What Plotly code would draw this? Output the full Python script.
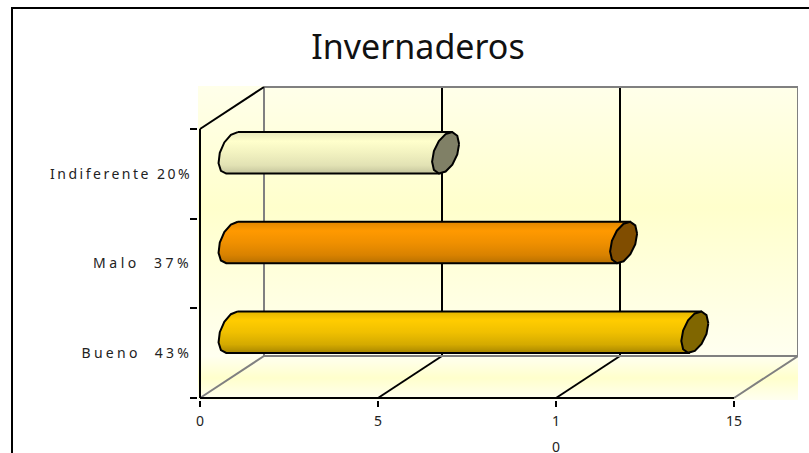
import math
import plotly.graph_objects as go

categories = ["Bueno", "Malo", "Indiferente"]
percent_labels = ["Bueno  43%", "Malo  37%", "Indiferente 20%"]
values = [13, 11, 6]
label_spacing = [3.3, 3.5, 2.5]
x_ticks = [0, 5, 10, 15]
x_tick_labels = ["0", "5", "1<br><span style='baseline-shift:-8px'>0</span>", "15"]
body_scales = [
    [[0, "#A88600"], [0.2, "#D4AA00"], [0.5, "#F0C000"], [0.78, "#FFCC00"], [1, "#E3B500"]],
    [[0, "#B87000"], [0.2, "#D98200"], [0.5, "#F09000"], [0.78, "#FF9900"], [1, "#E08600"]],
    [[0, "#C4C49C"], [0.2, "#E2E2B4"], [0.5, "#F2F2C0"], [0.78, "#FFFFCC"], [1, "#E8E8BC"]],
]
cap_colors = ["#806600", "#804D00", "#808066"]

W, H = 809, 453
PX_X, PX_Y = 35.6, 89.67
X0, Y0 = 200, 398
LEFT, RIGHT, TOP, BOTTOM = 198, 798, 86, 400
DX, DY = 64 / PX_X, 42 / PX_Y
RX, RY = 0.211, 0.209
N_CAT = len(categories)
WALL = "#808080"


def ellipse(cx, cy, ts):
    xs = [cx + RX * DX * math.cos(t) for t in ts]
    ys = [cy + RX * DY * math.cos(t) + RY * math.sin(t) for t in ts]
    return xs, ys


fig = go.Figure()


def line(xs, ys, color="black", width=2):
    fig.add_trace(go.Scatter(x=xs, y=ys, mode="lines", line=dict(color=color, width=width),
                             hoverinfo="skip", showlegend=False, cliponaxis=False))


xmin, xmax = (LEFT - X0) / PX_X, (RIGHT - X0) / PX_X
ymin, ymax = (Y0 - BOTTOM) / PX_Y, (Y0 - TOP) / PX_Y
floor_top = DY

# walls and floor
fig.add_trace(go.Scatter(x=[xmin, xmax, xmax, xmin, xmin], y=[floor_top, floor_top, ymax, ymax, floor_top],
                         mode="none", fill="toself", hoverinfo="skip", showlegend=False,
                         fillgradient=dict(type="vertical", colorscale=[[0, "#FFFFF0"], [0.55, "#FFFFCC"], [1, "#FFFFEA"]])))
fig.add_trace(go.Scatter(x=[xmin, xmax, xmax, xmin, xmin], y=[ymin, ymin, floor_top, floor_top, ymin],
                         mode="none", fill="toself", hoverinfo="skip", showlegend=False,
                         fillgradient=dict(type="vertical", colorscale=[[0, "#FFFFF0"], [0.5, "#FFFFCC"], [1, "#FFFFF0"]])))

# back grid and floor lines
for v in x_ticks:
    c = WALL if v in (0, 15) else "black"
    line([v, v + DX], [0, DY], c)
    line([v + DX, v + DX], [DY, N_CAT + DY], c)
line([DX, 15 + DX], [DY, DY], WALL)
line([DX, 15 + DX], [N_CAT + DY, N_CAT + DY], WALL)
line([0, DX], [N_CAT, N_CAT + DY], "black")

# cylinders
facets = 12
for i, v in enumerate(values):
    cy = i + 0.5 + DY / 2
    cx0, cx1 = DX / 2, v + DX / 2
    t_top = math.atan2(RY, RX * DY)
    t_bot = t_top + math.pi
    left_ts = [t_top + (t_bot - t_top) * k / (facets // 2) for k in range(facets // 2 + 1)]
    lx, ly = ellipse(cx0, cy, left_ts)
    rx, ry = ellipse(cx1, cy, [t_bot, t_top])
    fig.add_trace(go.Scatter(x=lx + rx + lx[:1], y=ly + ry + ly[:1], mode="lines", fill="toself",
                             line=dict(color="black", width=2), hoverinfo="skip", showlegend=False,
                             fillgradient=dict(type="vertical", colorscale=body_scales[i])))
    cap_ts = [2 * math.pi * k / facets for k in range(facets + 1)]
    ex, ey = ellipse(cx1, cy, cap_ts)
    fig.add_trace(go.Scatter(x=ex, y=ey, mode="lines", fill="toself", fillcolor=cap_colors[i],
                             line=dict(color="black", width=2), hoverinfo="skip", showlegend=False))

# axis lines
line([0, 15], [0, 0], "black", 2)
line([0, 0], [0, N_CAT], "black", 2)

y_text = [f"<span style='letter-spacing:{s}px'>{t}</span>" for t, s in zip(percent_labels, label_spacing)]

fig.update_layout(
    width=W, height=H, margin=dict(l=0, r=0, t=0, b=0),
    paper_bgcolor="white", plot_bgcolor="rgba(0,0,0,0)", showlegend=False,
    font=dict(family="Noto Sans", size=14, color="#222222"),
    title=dict(text="Invernaderos", x=418 / W, xanchor="center", y=1 - 47 / H, yanchor="middle",
               automargin=False, font=dict(family="Noto Sans", size=34, color="#111111")),
    xaxis=dict(domain=[LEFT / W, RIGHT / W], range=[xmin, xmax], automargin=False,
               showgrid=False, zeroline=False, showline=False,
               tickmode="array", tickvals=x_ticks, ticktext=x_tick_labels, tickangle=0,
               ticks="outside", ticklen=6, tickwidth=2, tickcolor="black", ticklabelstandoff=2,
               tickfont=dict(family="Noto Sans", size=14, color="#222222")),
    yaxis=dict(domain=[1 - BOTTOM / H, 1 - TOP / H], range=[ymin, ymax], automargin=False,
               showgrid=False, zeroline=False, showline=False,
               tickmode="array", tickvals=[i + 0.5 for i in range(N_CAT)], ticktext=y_text,
               ticks="outside", ticklen=2, tickcolor="rgba(0,0,0,0)",
               tickfont=dict(family="Noto Sans", size=14, color="#222222"),
               minor=dict(tickmode="array", tickvals=list(range(N_CAT + 1)), ticks="outside",
                          ticklen=7, tickwidth=2, tickcolor="black")),
    shapes=[dict(type="rect", xref="paper", yref="paper", x0=12 / W, x1=1.05, y0=1 - 8 / H, y1=-0.05,
                 line=dict(color="black", width=2), fillcolor="rgba(0,0,0,0)", layer="above")],
)

fig.write_html("out.html", config={"displayModeBar": False},
               post_script="document.body.style.margin='0';document.body.style.overflow='hidden';")
